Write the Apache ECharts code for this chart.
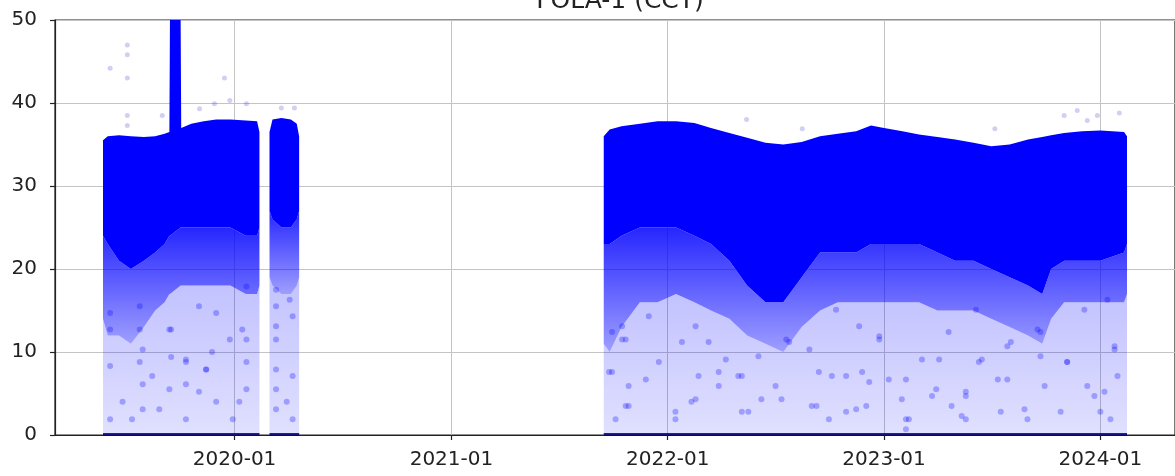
<!DOCTYPE html>
<html>
<head>
<meta charset="utf-8">
<script src="https://cdn.jsdelivr.net/npm/echarts@6/dist/echarts.min.js"></script>
<style>
  html, body { margin: 0; padding: 0; background: #fff; }
  #chart { width: 1175px; height: 476px; }
</style>
</head>
<body>
<div id="chart"></div>
<script>
// ---- FOLA-1 (CCT) readings ----
// Each recording period is described by its envelope: the upper edge of the
// point cloud, the bottom of the saturated core, and the bottom of the
// medium-density zone. Below that the readings thin out towards 0.

// Period 1 (with the short excursion above 50 in late September 2019)
const p1Dates = ['2019-05-24', '2019-06-01', '2019-06-20', '2019-07-10', '2019-08-01', '2019-08-20', '2019-09-05', '2019-09-13', '2019-09-14', '2019-10-02', '2019-10-03', '2019-10-20', '2019-11-10', '2019-12-01', '2019-12-25', '2020-01-20', '2020-02-08', '2020-02-12'];
const p1Top   = [35.5, 36.0, 36.1, 36.0, 35.9, 36.0, 36.3, 36.5, 50.0, 50.0, 37.0, 37.5, 37.8, 38.0, 38.0, 37.9, 37.8, 36.5];
const p1Core  = [24, 23, 21, 20, 21, 22, 23, 24, 24, 25, 25, 25, 25, 25, 25, 24, 24, 25];
const p1Mid   = [14, 12, 12, 11, 13, 15, 16, 17, 17, 18, 18, 18, 18, 18, 18, 17, 17, 18];

// Period 2
const p2Dates = ['2020-02-29', '2020-03-05', '2020-03-20', '2020-04-05', '2020-04-15', '2020-04-19'];
const p2Top   = [36.5, 38.0, 38.2, 38.0, 37.5, 36.0];
const p2Core  = [27, 26, 25, 25, 26, 27];
const p2Mid   = [19, 18, 17, 17, 18, 19];

// Period 3
const p3Dates = ['2021-09-15', '2021-09-25', '2021-10-15', '2021-11-15', '2021-12-15', '2022-01-15', '2022-02-15', '2022-03-15', '2022-04-15', '2022-05-15', '2022-06-15', '2022-07-15', '2022-08-15', '2022-09-15', '2022-10-15', '2022-11-15', '2022-12-10', '2023-01-01', '2023-02-01', '2023-03-01', '2023-04-01', '2023-05-01', '2023-06-01', '2023-07-01', '2023-08-01', '2023-09-01', '2023-09-25', '2023-10-10', '2023-11-01', '2023-12-01', '2024-01-01', '2024-02-10', '2024-02-15'];
const p3Top   = [36.0, 36.8, 37.2, 37.5, 37.8, 37.8, 37.6, 37.0, 36.4, 35.8, 35.2, 35.0, 35.3, 36.0, 36.3, 36.6, 37.3, 37.0, 36.6, 36.2, 35.9, 35.6, 35.2, 34.8, 35.0, 35.6, 35.9, 36.1, 36.4, 36.6, 36.7, 36.5, 36.0];
const p3Core  = [23, 23, 24, 25, 25, 25, 24, 23, 21, 18, 16, 16, 19, 22, 22, 22, 23, 23, 23, 23, 22, 21, 21, 20, 19, 18, 17, 20, 21, 21, 21, 22, 23];
const p3Mid   = [11, 10, 13, 16, 16, 17, 16, 15, 14, 12, 11, 10, 13, 15, 16, 16, 16, 16, 16, 16, 15, 15, 15, 14, 13, 12, 11, 14, 16, 16, 16, 16, 17];

// Sparse low readings
const lowPoints = [
  ['2019-06-05', 12.7], ['2019-07-25', 12.7], ['2019-07-30', 10.3], ['2019-07-25', 8.8], ['2019-06-05', 8.3],
  ['2019-09-16', 12.7], ['2019-09-16', 9.4], ['2019-10-11', 8.8], ['2019-11-14', 7.9], ['2019-12-24', 11.5],
  ['2020-01-21', 11.5], ['2020-01-21', 8.8], ['2019-07-30', 6.1], ['2019-10-11', 6.1], ['2019-06-26', 4.0],
  ['2019-07-30', 3.1], ['2019-08-27', 3.1], ['2019-10-11', 1.9], ['2019-12-01', 4.0], ['2020-01-09', 4.0],
  ['2019-12-29', 1.9], ['2019-06-05', 1.9], ['2019-07-12', 1.9], ['2019-11-02', 5.2], ['2019-11-24', 10.0],
  ['2019-09-13', 5.5], ['2019-08-15', 7.1], ['2020-01-21', 5.5], ['2019-07-25', 15.5], ['2019-06-05', 14.7],
  ['2019-09-13', 12.7], ['2019-11-02', 15.5], ['2019-12-01', 14.7], ['2020-01-14', 12.7], ['2020-01-21', 17.9],
  ['2019-11-14', 7.9], ['2019-10-11', 9.1],
  ['2020-03-11', 13.1], ['2020-03-11', 11.5], ['2020-03-11', 7.9], ['2020-04-08', 7.1], ['2020-03-11', 5.5],
  ['2020-03-29', 4.0], ['2020-04-08', 1.9], ['2020-03-11', 3.1], ['2020-03-11', 17.5], ['2020-03-11', 15.5],
  ['2020-04-03', 16.3], ['2020-04-08', 14.3],
  ['2021-10-16', 13.1], ['2021-11-30', 14.3], ['2021-10-16', 11.5], ['2022-02-17', 13.1], ['2022-03-11', 11.2],
  ['2022-05-06', 7.1], ['2022-03-28', 7.6], ['2022-02-17', 4.3], ['2021-10-27', 3.5], ['2021-12-17', 8.8],
  ['2022-07-25', 11.2], ['2022-08-28', 10.3], ['2022-06-08', 4.3], ['2022-07-02', 5.9], ['2022-09-09', 3.5],
  ['2022-10-29', 2.8], ['2022-10-05', 7.1], ['2022-12-02', 3.5], ['2022-05-06', 2.8], ['2022-01-14', 2.8],
  ['2021-09-24', 7.6], ['2022-11-25', 7.6], ['2022-11-20', 13.1], ['2022-10-12', 15.1],
  ['2023-01-09', 6.7], ['2023-01-31', 4.3], ['2023-03-30', 5.5], ['2023-05-19', 5.2], ['2023-05-12', 2.3],
  ['2023-07-28', 10.7], ['2023-07-28', 6.7], ['2023-08-26', 3.1], ['2023-09-22', 12.4], ['2023-09-22', 9.5],
  ['2023-11-06', 8.8], ['2023-10-26', 2.8], ['2023-12-10', 5.9], ['2024-01-08', 5.2], ['2024-01-25', 10.7],
  ['2024-01-01', 2.8], ['2023-03-06', 9.1], ['2023-06-15', 9.1], ['2023-04-25', 3.5], ['2023-02-12', 1.9],
  ['2023-07-17', 2.8], ['2022-12-24', 11.5], ['2023-04-20', 12.4], ['2023-06-05', 15.1], ['2023-12-05', 15.1],
  ['2024-01-13', 16.3],
  ['2022-07-20', 11.5], ['2022-09-01', 3.5], ['2022-09-13', 7.6], ['2022-10-29', 7.1], ['2022-11-15', 3.1],
  ['2022-12-07', 6.4], ['2023-02-07', 6.7], ['2023-02-07', 1.9], ['2023-03-23', 4.7], ['2023-05-19', 1.9],
  ['2023-05-19', 4.7], ['2023-07-12', 6.7], ['2023-08-03', 11.2], ['2023-09-17', 12.7], ['2023-08-31', 1.9],
  ['2023-09-29', 5.9], ['2023-11-06', 8.8], ['2023-12-22', 4.7], ['2024-01-18', 1.9], ['2024-01-25', 10.3],
  ['2024-01-30', 7.1], ['2023-02-07', 0.7], ['2022-09-30', 1.9], ['2022-12-24', 11.9], ['2023-04-04', 9.1],
  ['2023-06-10', 8.8],
  ['2021-09-29', 12.4], ['2021-10-22', 11.5], ['2021-09-29', 7.6], ['2021-10-27', 5.9], ['2021-10-22', 3.5],
  ['2021-11-25', 6.7], ['2022-01-25', 11.2], ['2022-02-22', 7.1], ['2022-03-28', 5.9], ['2022-04-30', 7.1],
  ['2022-05-17', 2.8], ['2022-07-12', 4.3], ['2022-02-10', 4.0], ['2022-04-09', 9.1], ['2022-06-03', 9.5],
  ['2021-10-05', 1.9], ['2022-01-14', 1.9]
];

// Isolated readings above the main cloud
const highPoints = [
  ['2019-06-05', 44.2], ['2019-07-04', 47.0], ['2019-07-04', 45.8], ['2019-07-04', 43.0], ['2019-07-04', 38.5],
  ['2019-07-04', 37.3], ['2019-09-01', 38.5], ['2019-11-03', 39.3], ['2019-11-28', 39.9], ['2019-12-15', 43.0],
  ['2019-12-24', 40.3], ['2020-01-21', 39.9], ['2020-03-20', 39.4], ['2020-04-11', 39.4],
  ['2022-05-14', 38.0], ['2022-08-16', 36.9], ['2023-07-07', 36.9], ['2023-11-01', 38.5], ['2023-11-23', 39.1],
  ['2023-12-10', 37.9], ['2023-12-27', 38.5], ['2024-02-02', 38.8]
];

// Axis setup
const xMin = '2019-03-04';
const xMax = '2024-05-06';
const yMin = 0, yMax = 50, yStep = 10;
const titleText = 'FOLA-1 (CCT)';

// ---- build the drawing ----
const periods = [
  { dates: p1Dates, top: p1Top, core: p1Core, mid: p1Mid },
  { dates: p2Dates, top: p2Top, core: p2Core, mid: p2Mid },
  { dates: p3Dates, top: p3Top, core: p3Core, mid: p3Mid }
].map(p => Object.assign(p, {
  t: p.dates.map(d => echarts.number.parseDate(d).getTime()),
  zero: p.dates.map(() => 0)
}));

// A band between two envelope arrays of one period, drawn through the axes.
function bandSeries(name, upperKey, lowerKey, fill, z) {
  return {
    name: name,
    type: 'custom',
    clip: true,
    z: z,
    silent: true,
    data: periods.map((p, i) => [p.t[0], i]),
    encode: { x: 0, y: -1 },
    renderItem: function (params, api) {
      const p = periods[params.dataIndex];
      const up = p[upperKey], lo = p[lowerKey];
      const pts = [];
      for (let i = 0; i < p.t.length; i++) pts.push(api.coord([p.t[i], up[i]]));
      for (let i = p.t.length - 1; i >= 0; i--) pts.push(api.coord([p.t[i], lo[i]]));
      return { type: 'polygon', shape: { points: pts }, style: { fill: fill } };
    }
  };
}

// Readings piled up at 0 along each period.
const zeroSeries = {
  name: 'zero',
  type: 'custom',
  clip: false,
  z: 6,
  silent: true,
  data: periods.map((p, i) => [p.t[0], i]),
  encode: { x: 0, y: -1 },
  renderItem: function (params, api) {
    const p = periods[params.dataIndex];
    const a = api.coord([p.t[0], 0]);
    const b = api.coord([p.t[p.t.length - 1], 0]);
    return { type: 'line', shape: { x1: a[0], y1: a[1] - 0.5, x2: b[0], y2: b[1] - 0.5 },
             style: { stroke: 'rgba(0,0,120,0.85)', lineWidth: 3 } };
  }
};

const chart = echarts.init(document.getElementById('chart'), null, { renderer: 'canvas' });
const textColor = '#222';
const fontFamily = 'DejaVu Sans';

chart.setOption({
  animation: false,
  backgroundColor: '#ffffff',
  title: {
    text: titleText,
    left: 615,
    textAlign: 'center',
    top: -16,
    textStyle: { fontFamily: fontFamily, fontSize: 25, fontWeight: 'normal', color: textColor }
  },
  grid: {
    left: 55, right: -3, top: 20, bottom: 41,
    show: true, borderColor: '#222', borderWidth: 1.2, backgroundColor: 'transparent'
  },
  xAxis: {
    type: 'time',
    min: xMin,
    max: xMax,
    minInterval: 365 * 24 * 3600 * 1000,
    maxInterval: 366 * 24 * 3600 * 1000,
    axisLine: { show: true, onZero: false, lineStyle: { color: '#222', width: 1.2 } },
    axisTick: { show: true, inside: false, length: 5, lineStyle: { color: '#222', width: 1.2 } },
    minorTick: { show: false },
    axisLabel: {
      formatter: '{yyyy}-{MM}',
      margin: 15,
      color: textColor,
      fontFamily: fontFamily,
      fontSize: 20,
      showMinLabel: false,
      showMaxLabel: false,
      hideOverlap: false
    },
    splitLine: { show: true, lineStyle: { color: '#c4c4c4', width: 1 } }
  },
  yAxis: {
    type: 'value',
    min: yMin,
    max: yMax,
    interval: yStep,
    axisLine: { show: true, lineStyle: { color: '#222', width: 1.2 } },
    axisTick: { show: true, inside: false, length: 5, lineStyle: { color: '#222', width: 1.2 } },
    axisLabel: { margin: 18, color: textColor, fontFamily: fontFamily, fontSize: 20 },
    splitLine: { show: true, lineStyle: { color: '#c4c4c4', width: 1 } }
  },
  series: [
    bandSeries('sparse', 'mid', 'zero', new echarts.graphic.LinearGradient(0, 0, 0, 1, [
      { offset: 0, color: 'rgba(0,0,255,0.24)' },
      { offset: 1, color: 'rgba(0,0,255,0.12)' }
    ]), 2),
    {
      name: 'low',
      type: 'scatter',
      z: 3,
      silent: true,
      symbolSize: 6,
      itemStyle: { color: 'rgba(0,0,255,0.35)' },
      data: lowPoints
    },
    bandSeries('fading', 'core', 'mid', new echarts.graphic.LinearGradient(0, 0, 0, 1, [
      { offset: 0, color: 'rgba(0,0,255,0.85)' },
      { offset: 1, color: 'rgba(0,0,255,0.38)' }
    ]), 4),
    bandSeries('core', 'top', 'core', '#0000ff', 5),
    {
      name: 'high',
      type: 'scatter',
      z: 5,
      silent: true,
      symbolSize: 5,
      itemStyle: { color: 'rgba(60,60,200,0.3)' },
      data: highPoints
    },
    zeroSeries
  ]
});
</script>
</body>
</html>
